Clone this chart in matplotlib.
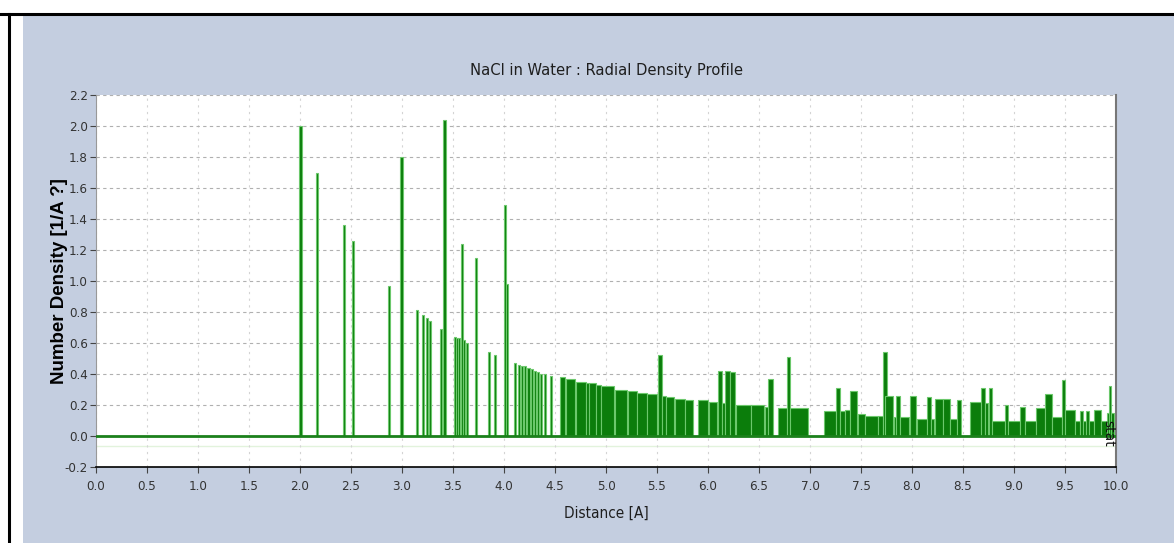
import numpy as np
import matplotlib.pyplot as plt
from matplotlib.patches import Rectangle
from matplotlib.lines import Line2D
from matplotlib.font_manager import FontProperties

# histogram bins: left edge, right edge, density
bin_lo = [1.99, 2.155, 2.42, 2.505, 2.86, 2.985, 3.135, 3.20, 3.235, 3.26,
          3.37, 3.405, 3.51, 3.53, 3.55, 3.575, 3.60, 3.63, 3.72, 3.84,
          3.90, 4.00, 4.02, 4.10, 4.14, 4.17, 4.20, 4.23, 4.26, 4.29,
          4.32, 4.35, 4.39, 4.45,
          4.55, 4.605, 4.705, 4.805, 4.835, 4.905, 4.955, 5.085, 5.215, 5.305,
          5.405, 5.505, 5.55, 5.59, 5.675, 5.775, 5.905, 6.005, 6.095, 6.14,
          6.17, 6.22, 6.27, 6.425, 6.555, 6.59, 6.685, 6.77, 6.805,
          7.14, 7.255, 7.29, 7.345, 7.39, 7.47, 7.54, 7.67, 7.72, 7.735,
          7.82, 7.84, 7.88, 7.98, 8.045, 8.15, 8.19, 8.225, 8.305, 8.37,
          8.44, 8.57, 8.68, 8.715, 8.75, 8.78, 8.91, 8.945, 9.06, 9.11,
          9.22, 9.30, 9.37, 9.47, 9.50, 9.60, 9.65, 9.68, 9.71, 9.74,
          9.78, 9.85, 9.91, 9.93, 9.95]
bin_hi = [2.015, 2.18, 2.44, 2.53, 2.885, 3.01, 3.155, 3.22, 3.255, 3.28,
          3.39, 3.43, 3.53, 3.55, 3.57, 3.595, 3.62, 3.645, 3.74, 3.86,
          3.92, 4.02, 4.035, 4.12, 4.16, 4.19, 4.22, 4.25, 4.28, 4.31,
          4.34, 4.37, 4.41, 4.47,
          4.60, 4.70, 4.80, 4.83, 4.90, 4.95, 5.08, 5.21, 5.30, 5.40,
          5.50, 5.545, 5.585, 5.67, 5.77, 5.85, 6.00, 6.09, 6.135, 6.165,
          6.215, 6.265, 6.42, 6.55, 6.585, 6.635, 6.77, 6.80, 6.98,
          7.25, 7.29, 7.34, 7.39, 7.46, 7.535, 7.665, 7.715, 7.75, 7.815,
          7.84, 7.88, 7.975, 8.04, 8.145, 8.19, 8.22, 8.30, 8.37, 8.44,
          8.485, 8.675, 8.715, 8.745, 8.78, 8.91, 8.945, 9.06, 9.11, 9.22,
          9.30, 9.37, 9.47, 9.50, 9.60, 9.65, 9.68, 9.71, 9.74, 9.78,
          9.85, 9.91, 9.93, 9.95, 9.985]
density = [2.00, 1.70, 1.36, 1.26, 0.97, 1.80, 0.81, 0.78, 0.76, 0.74,
           0.69, 2.04, 0.64, 0.63, 0.63, 1.24, 0.62, 0.60, 1.15, 0.54,
           0.52, 1.49, 0.98, 0.47, 0.46, 0.45, 0.45, 0.44, 0.43, 0.42,
           0.41, 0.40, 0.40, 0.39,
           0.38, 0.37, 0.35, 0.34, 0.34, 0.33, 0.32, 0.30, 0.29, 0.28,
           0.27, 0.52, 0.26, 0.25, 0.24, 0.23, 0.23, 0.22, 0.42, 0.21,
           0.42, 0.41, 0.20, 0.20, 0.19, 0.37, 0.18, 0.51, 0.18,
           0.16, 0.31, 0.16, 0.17, 0.29, 0.14, 0.13, 0.13, 0.54, 0.26,
           0.12, 0.26, 0.12, 0.26, 0.11, 0.25, 0.11, 0.24, 0.24, 0.11,
           0.23, 0.22, 0.31, 0.21, 0.31, 0.10, 0.20, 0.10, 0.19, 0.10,
           0.18, 0.27, 0.12, 0.36, 0.17, 0.10, 0.16, 0.10, 0.16, 0.10,
           0.17, 0.10, 0.15, 0.32, 0.15]

x_ticks = np.arange(0, 10.01, 0.5)
y_ticks = np.arange(-0.2, 2.21, 0.2)

tick_font = FontProperties(family='DejaVu Sans', stretch='condensed', size=9.5)
title_font = FontProperties(family='DejaVu Sans', stretch='condensed', size=11.8)
xlabel_font = FontProperties(family='DejaVu Sans', stretch='condensed', size=11)
panel = '#c4cee0'

fig = plt.figure(figsize=(11.74, 5.43), dpi=100, facecolor='white')
fig.add_artist(Rectangle((23 / 1174, 0), 1, 1 - 16 / 543, transform=fig.transFigure,
                         facecolor=panel, edgecolor='none', zorder=0))
fig.add_artist(Line2D([0, 1], [1 - 14 / 543] * 2, transform=fig.transFigure,
                      color='black', lw=2.2))
fig.add_artist(Line2D([9 / 1174] * 2, [0, 1 - 14 / 543], transform=fig.transFigure,
                      color='black', lw=2.2))

ax = fig.add_axes([96 / 1174, 76 / 543, 1020 / 1174, 372 / 543])
ax.set_facecolor('white')

lo = np.array(bin_lo)
hi = np.array(bin_hi)
ax.bar(lo, density, width=hi - lo, align='edge', color='#0b7d0b',
       edgecolor='#6cc86c', linewidth=0.8, zorder=3)
ax.plot([0, 10], [0, 0], color='#1b801b', lw=2, zorder=4)
ax.plot([0, 10], [-0.065, -0.065], color='#e2f3dc', lw=1, zorder=1)

ax.set_xlim(0, 10)
ax.set_ylim(-0.2, 2.2)
ax.set_xticks(x_ticks)
ax.set_yticks(y_ticks)
ax.set_xticklabels(['%.1f' % v for v in x_ticks])
ax.set_yticklabels(['%.1f' % (0.0 if abs(v) < 1e-9 else v) for v in y_ticks])
for lab in ax.get_xticklabels() + ax.get_yticklabels():
    lab.set_fontproperties(tick_font)
    lab.set_color('#333333')
ax.tick_params(axis='both', direction='out', length=4, width=0.8, color='#444444')
ax.tick_params(axis='y', pad=2)
ax.tick_params(axis='x', pad=5)

ax.grid(axis='y', color='#b0b0b0', linestyle=(0, (3, 3)), lw=0.8, zorder=0)
ax.grid(axis='x', color='#d4d4d4', linestyle=(0, (2, 4)), lw=0.8, zorder=0)

ax.spines['top'].set_visible(False)
ax.spines['left'].set_color('#999999')
ax.spines['right'].set_color('#777777')
ax.spines['right'].set_linewidth(1.5)
ax.spines['bottom'].set_color('black')
ax.spines['bottom'].set_linewidth(1.2)

ax.text(9.997, 0.1, 'stat', rotation=270, ha='right', va='top',
        fontproperties=FontProperties(family='DejaVu Sans', size=10), color='#111111', zorder=5)

fig.text(606 / 1174, 1 - 71 / 543, 'NaCl in Water : Radial Density Profile',
         ha='center', va='center', fontproperties=title_font, color='#1e1e1e')
fig.text(606 / 1174, 1 - 513 / 543, 'Distance [A]', ha='center', va='center',
         fontproperties=xlabel_font, color='#1e1e1e')
fig.text(60 / 1174, 1 - 281 / 543, 'Number Density [1/A ?]', rotation=90,
         ha='center', va='center', fontsize=13.5, fontweight='bold', color='black',
         family=['Liberation Sans', 'DejaVu Sans'])

fig.savefig('out.png', dpi=100, facecolor='white')
